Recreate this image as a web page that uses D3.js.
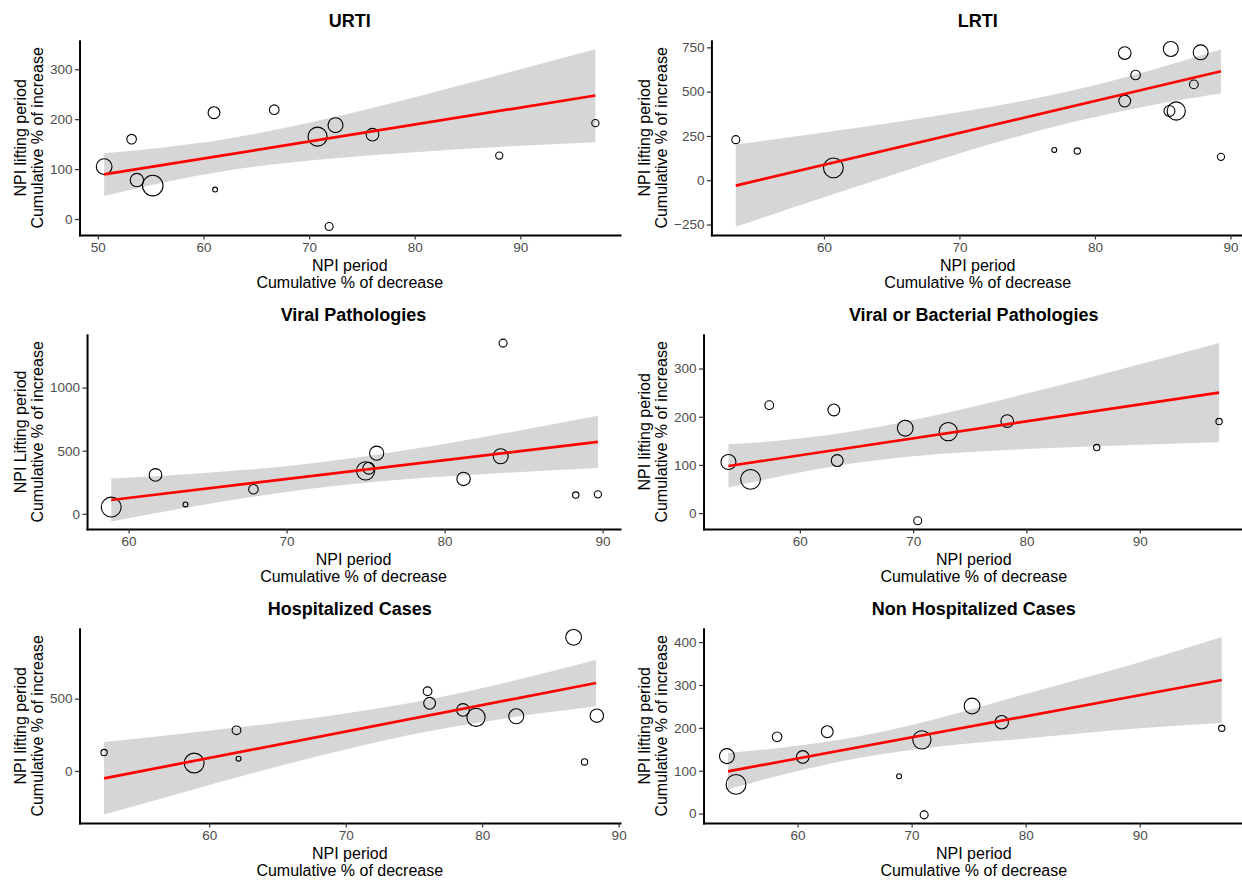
<!DOCTYPE html>
<html>
<head>
<meta charset="utf-8">
<script src="https://cdn.jsdelivr.net/npm/d3@7"></script>
<style>
  body { margin: 0; background: #fff; }
  svg { font-family: "Liberation Sans", Arial, sans-serif; }
</style>
</head>
<body>
<svg width="1242" height="882"></svg>
<script>
// URTI
var urtiX = [50.6, 53.2, 53.7, 55.2, 61.0, 61.1, 66.7, 70.8, 72.5, 71.9, 76.0, 88.0, 97.1];
var urtiY = [105, 160, 78, 67, 213, 59, 219, 165, 188, -15, 169, 127, 192];
var urtiN = [62, 23, 45, 106, 35, 6, 23, 90, 56, 16, 40, 13, 13];
var urtiFitX = [50.6, 97.1], urtiFitY = [89.3, 247.4];
var urtiBandX = [50.6, 56, 62, 70, 80, 90, 97.1];
var urtiBandLo = [46, 72, 96, 117, 134, 147, 154];
var urtiBandHi = [132, 143, 160, 193, 244, 300, 340];
var urtiXDomain = [48.27, 99.43], urtiYDomain = [-32, 357];
var urtiXTicks = [50, 60, 70, 80, 90], urtiYTicks = [0, 100, 200, 300];

// LRTI
var lrtiX = [53.5, 60.7, 77.0, 78.7, 82.2, 82.2, 83.0, 85.6, 85.5, 86.0, 87.3, 87.8, 89.3];
var lrtiY = [229, 70, 171, 165, 447, 718, 594, 741, 391, 391, 541, 722, 132];
var lrtiN = [16, 98, 6, 10, 35, 40, 23, 56, 30, 83, 19, 56, 13];
var lrtiFitX = [53.5, 89.3], lrtiFitY = [-30, 615];
var lrtiBandX = [53.5, 60, 66, 72, 78, 84, 89.3];
var lrtiBandLo = [-262, -96, 54, 197, 322, 421, 491];
var lrtiBandHi = [202, 270, 336, 410, 501, 618, 739];
var lrtiXDomain = [51.7, 91.0], lrtiYDomain = [-309, 787];
var lrtiXTicks = [60, 70, 80, 90], lrtiYTicks = [-250, 0, 250, 500, 750];

// Viral Pathologies
var viralX = [58.9, 61.7, 63.6, 67.9, 75.0, 75.2, 75.7, 81.2, 83.55, 83.7, 88.3, 89.7];
var viralY = [53, 308, 74, 194, 340, 361, 480, 276, 456, 1353, 148, 154];
var viralN = [98, 40, 6, 23, 83, 35, 50, 45, 56, 16, 10, 13];
var viralFitX = [58.9, 89.7], viralFitY = [109, 570];
var viralBandX = [58.9, 64, 70, 76, 82, 89.7];
var viralBandLo = [-61, 55, 173, 257, 311, 362];
var viralBandHi = [279, 316, 377, 473, 598, 778];
var viralXDomain = [57.37, 91.1], viralYDomain = [-121, 1419];
var viralXTicks = [60, 70, 80, 90], viralYTicks = [0, 500, 1000];

// Viral or Bacterial Pathologies
var vbX = [53.7, 55.65, 57.3, 63.0, 63.3, 69.3, 70.4, 73.1, 78.3, 86.2, 97.0];
var vbY = [106, 70, 224, 214, 109, 176, -16, 169, 191, 136, 190];
var vbN = [56, 98, 19, 35, 35, 62, 16, 83, 40, 10, 10];
var vbFitX = [53.7, 97.0], vbFitY = [97.7, 250.1];
var vbBandX = [53.7, 58, 64, 70, 80, 90, 97];
var vbBandLo = [53, 75, 101, 118, 133, 142, 147];
var vbBandHi = [143, 150, 167, 193, 248, 309, 353];
var vbXDomain = [51.5, 99.2], vbYDomain = [-33, 370];
var vbXTicks = [60, 70, 80, 90], vbYTicks = [0, 100, 200, 300];

// Hospitalized Cases
var hospX = [52.3, 58.9, 62.0, 62.15, 76.0, 76.15, 78.6, 79.55, 82.5, 86.7, 87.5, 88.4];
var hospY = [127, 55, 281, 85, 551, 468, 422, 371, 378, 924, 62, 382];
var hospN = [10, 98, 19, 6, 19, 35, 40, 83, 56, 62, 10, 45];
var hospFitX = [52.3, 88.35], hospFitY = [-51, 608];
var hospBandX = [52.3, 58, 64, 70, 76, 82, 88.35];
var hospBandLo = [-302, -150, 5, 149, 272, 368, 447];
var hospBandHi = [200, 257, 322, 397, 492, 616, 769];
var hospXDomain = [50.5, 90.1], hospYDomain = [-360, 983];
var hospXTicks = [60, 70, 80, 90], hospYTicks = [0, 500];

// Non Hospitalized Cases
var nhX = [53.8, 54.6, 58.2, 60.45, 62.6, 68.9, 70.9, 71.1, 75.3, 77.9, 97.2];
var nhY = [134, 68, 179, 132, 191, 87, 172, -3, 251, 213, 199];
var nhN = [56, 98, 23, 40, 35, 6, 83, 16, 62, 45, 10];
var nhFitX = [53.9, 97.2], nhFitY = [98.6, 311.5];
var nhBandX = [53.9, 58, 65, 72, 80, 90, 97.2];
var nhBandLo = [57, 86, 128, 155, 175, 199, 211];
var nhBandHi = [141, 152, 178, 220, 279, 353, 412];
var nhXDomain = [51.75, 99.15], nhYDomain = [-22, 431];
var nhXTicks = [60, 70, 80, 90], nhYTicks = [0, 100, 200, 300, 400];

var panels = [
  { title: "URTI", ylab: "NPI lifting period", x: urtiX, y: urtiY, n: urtiN, fitX: urtiFitX, fitY: urtiFitY,
    bandX: urtiBandX, lo: urtiBandLo, hi: urtiBandHi, xd: urtiXDomain, yd: urtiYDomain, xt: urtiXTicks, yt: urtiYTicks },
  { title: "LRTI", ylab: "NPI lifting period", x: lrtiX, y: lrtiY, n: lrtiN, fitX: lrtiFitX, fitY: lrtiFitY,
    bandX: lrtiBandX, lo: lrtiBandLo, hi: lrtiBandHi, xd: lrtiXDomain, yd: lrtiYDomain, xt: lrtiXTicks, yt: lrtiYTicks },
  { title: "Viral Pathologies", ylab: "NPI Lifting period", x: viralX, y: viralY, n: viralN, fitX: viralFitX, fitY: viralFitY,
    bandX: viralBandX, lo: viralBandLo, hi: viralBandHi, xd: viralXDomain, yd: viralYDomain, xt: viralXTicks, yt: viralYTicks },
  { title: "Viral or Bacterial Pathologies", ylab: "NPI lifting period", x: vbX, y: vbY, n: vbN, fitX: vbFitX, fitY: vbFitY,
    bandX: vbBandX, lo: vbBandLo, hi: vbBandHi, xd: vbXDomain, yd: vbYDomain, xt: vbXTicks, yt: vbYTicks },
  { title: "Hospitalized Cases", ylab: "NPI lifting period", x: hospX, y: hospY, n: hospN, fitX: hospFitX, fitY: hospFitY,
    bandX: hospBandX, lo: hospBandLo, hi: hospBandHi, xd: hospXDomain, yd: hospYDomain, xt: hospXTicks, yt: hospYTicks },
  { title: "Non Hospitalized Cases", ylab: "NPI lifting period", x: nhX, y: nhY, n: nhN, fitX: nhFitX, fitY: nhFitY,
    bandX: nhBandX, lo: nhBandLo, hi: nhBandHi, xd: nhXDomain, yd: nhYDomain, xt: nhXTicks, yt: nhYTicks }
];

var svg = d3.select("svg");
var size = d3.scaleSqrt().domain([0, 100]).range([0, 10]);
var fmt = d3.format("");

function styleAxis(ax) {
    ax.attr("font-family", null).attr("font-size", null);
    ax.selectAll(".tick text").attr("fill", "#4d4d4d").attr("font-size", "13.5px");
    ax.selectAll(".tick line").attr("stroke", "#333").attr("stroke-width", 1.2);
    ax.select(".domain").attr("stroke", "#000").attr("stroke-width", 2).attr("stroke-linecap", "square");
}

panels.forEach(function(p, i) {
    var colX = (i % 2) * 624,
        rowY = Math.floor(i / 2) * 294;

    var g = svg.append("g").attr("transform", "translate(" + colX + "," + rowY + ")");

    // width of the longest y tick label decides where the plot starts
    var tickW = 0;
    p.yt.forEach(function(t) {
        var tx = g.append("text").attr("font-size", "13.5px").text(fmt(t));
        tickW = Math.max(tickW, tx.node().getComputedTextLength());
        tx.remove();
    });

    var left = 48.5 + tickW + 8.5,
        right = 620,
        top = 40.8,
        bottom = 235;

    var x = d3.scaleLinear().domain(p.xd).range([left, right]);
    var y = d3.scaleLinear().domain(p.yd).range([bottom, top]);

    var band = d3.area()
                 .curve(d3.curveMonotoneX)
                 .x(function(d, k) { return x(p.bandX[k]); })
                 .y0(function(d, k) { return y(p.lo[k]); })
                 .y1(function(d, k) { return y(p.hi[k]); });

    g.append("path")
     .datum(p.bandX)
     .attr("d", band)
     .attr("fill", "#d6d6d6");

    g.append("g")
     .selectAll("circle")
     .data(p.x)
     .enter().append("circle")
     .attr("cx", function(d) { return x(d); })
     .attr("cy", function(d, k) { return y(p.y[k]); })
     .attr("r", function(d, k) { return size(p.n[k]); })
     .attr("fill", "none")
     .attr("stroke", "#000")
     .attr("stroke-width", 1.1);

    var fit = d3.line()
                .x(function(d, k) { return x(p.fitX[k]); })
                .y(function(d, k) { return y(p.fitY[k]); });

    g.append("path")
     .datum(p.fitX)
     .attr("d", fit)
     .attr("fill", "none")
     .attr("stroke", "#ff0000")
     .attr("stroke-width", 2.7);

    g.append("g")
     .attr("transform", "translate(0," + bottom + ")")
     .call(d3.axisBottom(x).tickValues(p.xt).tickFormat(fmt).tickSize(4.5).tickSizeOuter(0).tickPadding(3))
     .call(styleAxis);

    g.append("g")
     .attr("transform", "translate(" + left + ",0)")
     .call(d3.axisLeft(y).tickValues(p.yt).tickFormat(fmt).tickSize(4.5).tickSizeOuter(0).tickPadding(2.5))
     .call(styleAxis);

    g.append("text")
     .attr("x", (left + right) / 2)
     .attr("y", 27.3)
     .attr("text-anchor", "middle")
     .attr("font-size", "18px")
     .attr("font-weight", "bold")
     .text(p.title);

    g.append("text")
     .attr("x", (left + right) / 2)
     .attr("y", 271)
     .attr("text-anchor", "middle")
     .attr("font-size", "16px")
     .text("NPI period");

    g.append("text")
     .attr("x", (left + right) / 2)
     .attr("y", 288)
     .attr("text-anchor", "middle")
     .attr("font-size", "16px")
     .text("Cumulative % of decrease");

    var cy = (top + bottom) / 2;
    g.append("text")
     .attr("transform", "translate(25.5," + cy + ") rotate(-90)")
     .attr("text-anchor", "middle")
     .attr("font-size", "16px")
     .text(p.ylab);

    g.append("text")
     .attr("transform", "translate(42.5," + cy + ") rotate(-90)")
     .attr("text-anchor", "middle")
     .attr("font-size", "16px")
     .text("Cumulative % of increase");
});
</script>
</body>
</html>
